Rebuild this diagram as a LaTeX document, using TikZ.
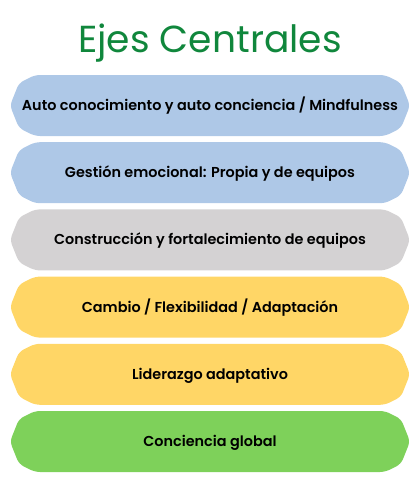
\documentclass[tikz,border=0pt]{standalone}
\usepackage{fontspec}
\setmainfont{Poppins}
\newfontfamily\ejefont{Poppins SemiBold}
\usetikzlibrary{positioning}
\definecolor{tituloverde}{RGB}{16,135,60}
\definecolor{ejeazul}{RGB}{174,200,231}
\definecolor{ejegris}{RGB}{212,210,211}
\definecolor{ejeamarillo}{RGB}{255,214,102}
\definecolor{ejeverde}{RGB}{126,209,90}

\begin{document}
\begin{tikzpicture}[x=1pt,y=-1pt,
    ejeforma/.pic={\fill[#1, rounded corners=5pt]
      (35,0) -- (385,0) -- (401,8) -- (410,30.5) -- (401,53) -- (385,61)
      -- (35,61) -- (19,53) -- (10,30.5) -- (19,8) -- cycle;},
    etiqueta/.style={anchor=base, inner sep=0pt, text=black,
      font=\ejefont\fontsize{14.4}{16}\selectfont}]
  \useasboundingbox (0,0) rectangle (420,490);

  % Title
  \node[anchor=base, inner sep=0pt, text=tituloverde,
    font=\fontsize{37.6}{40}\selectfont] (titulo) at (210,52) {Ejes Centrales};

  % Axes, top to bottom
  \pic at (0,75) {ejeforma=ejeazul};
  \node[etiqueta] (autoconocimiento) at (210,110.5)
    {Auto conocimiento y auto conciencia / Mindfulness};

  \pic at (0,142.2) {ejeforma=ejeazul};
  \node[etiqueta] (gestion) at (210,177.7)
    {Gestión emocional: Propia y de equipos};

  \pic at (0,209.4) {ejeforma=ejegris};
  \node[etiqueta] (construccion) at (210,244.9)
    {Construcción y fortalecimiento de equipos};

  \pic at (0,276.6) {ejeforma=ejeamarillo};
  \node[etiqueta] (cambio) at (210,312.1)
    {Cambio / Flexibilidad / Adaptación};

  \pic at (0,343.8) {ejeforma=ejeamarillo};
  \node[etiqueta] (liderazgo) at (210,379.3)
    {Liderazgo adaptativo};

  \pic at (0,411) {ejeforma=ejeverde};
  \node[etiqueta] (conciencia) at (210,446.5)
    {Conciencia global};
\end{tikzpicture}
\end{document}
